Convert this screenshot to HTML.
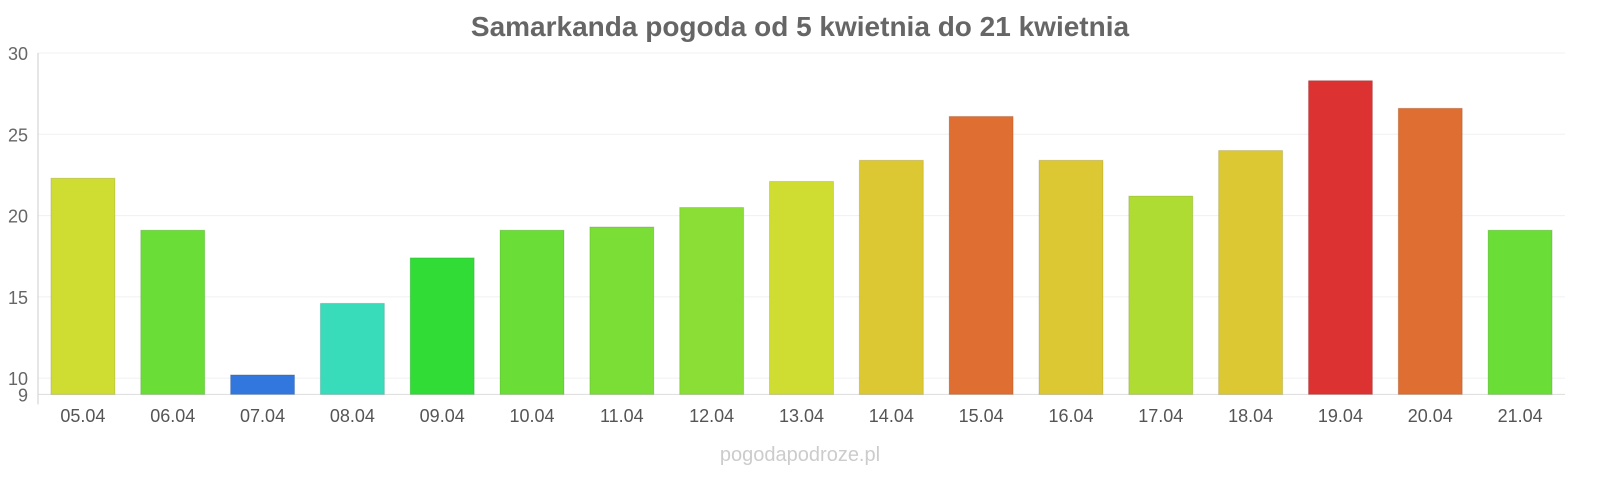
<!DOCTYPE html>
<html><head><meta charset="utf-8"><style>
body{margin:0;background:#fff;width:1600px;height:480px;overflow:hidden;font-family:"Liberation Sans",sans-serif}
</style></head><body>
<svg id="c" width="1600" height="480">
<text x="800" y="36" text-anchor="middle" font-size="28" font-weight="bold" fill="#666">Samarkanda pogoda od 5 kwietnia do 21 kwietnia</text>
<text x="800" y="461" text-anchor="middle" font-size="20" fill="#ccc">pogodapodroze.pl</text>
</svg>
<script>
const categories=["05.04","06.04","07.04","08.04","09.04","10.04","11.04","12.04","13.04","14.04","15.04","16.04","17.04","18.04","19.04","20.04","21.04"];
const values=[22.3,19.1,10.2,14.6,17.4,19.1,19.3,20.5,22.1,23.4,26.1,23.4,21.2,24.0,28.3,26.6,19.1];
const colors=["#cfdc32","#6ade36","#3277de","#38dcbb","#32dc36","#6ade36","#7ade36","#8ade36","#cfdc32","#dcc832","#de6e32","#dcc832","#afdc32","#dcc832","#dc3232","#de6e32","#6ade36"];
const ticks=[30,25,20,15,10,9];
const svg=document.getElementById('c');const NS="http://www.w3.org/2000/svg";
const x0=38,x1=1565,yMin=9,yMax=30,yTop=53,yBot=394.4;
const y=v=>yBot-(v-yMin)*(yBot-yTop)/(yMax-yMin);
const band=(x1-x0)/categories.length;
function mk(t,a){const e=document.createElementNS(NS,t);for(const k in a)e.setAttribute(k,a[k]);svg.appendChild(e);return e;}
ticks.forEach(t=>{
 if(t!==9){const g=mk('line',{x1:x0,x2:x1,y1:y(t),y2:y(t),stroke:'#f0f0f0'});
 
 }
 const l=mk('text',{x:28,y:y(t)+7,'text-anchor':'end','font-size':18,fill:'#666'});l.textContent=t;
 
 
});
const ax=mk('line',{x1:x0,x2:x0,y1:yTop,y2:yBot+10,stroke:'#ccc'});


const xa=mk('line',{x1:x0,x2:x1,y1:yBot,y2:yBot,stroke:'#ddd'});


categories.forEach((c,i)=>{
 const cx=x0+band*(i+0.5);
 const r=mk('rect',{x:cx-32,y:y(values[i]),width:64,height:yBot-y(values[i]),fill:colors[i],stroke:'rgba(0,0,0,0.12)'});
 
 
 const t=mk('text',{x:cx,y:422,'text-anchor':'middle','font-size':18,fill:'#555'});t.textContent=c;
 
 
});
</script>
</body></html>
